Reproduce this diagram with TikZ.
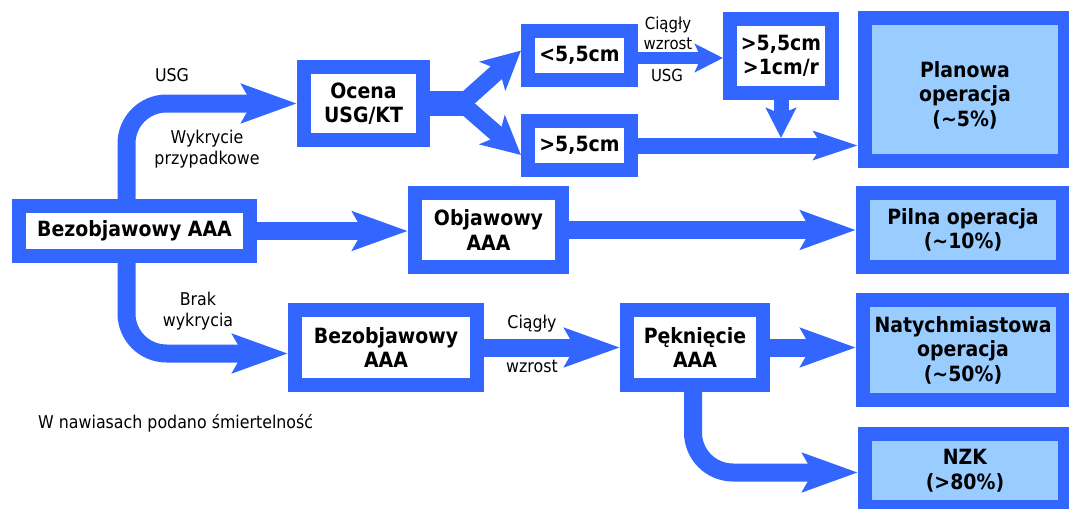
\documentclass[tikz,border=0pt]{standalone}
\usepackage{fontspec}
\setmainfont{DejaVu Sans}[FakeStretch=0.9]
\usetikzlibrary{arrows.meta,calc}
\definecolor{boxblue}{RGB}{51,102,255}
\definecolor{fillblue}{RGB}{153,204,255}
\begin{document}
\begin{tikzpicture}[x=1pt,y=-1pt,
  box/.style={draw=boxblue, line width=14pt, fill=white, inner sep=0pt, outer sep=7pt, align=center, font=\bfseries\fontsize{21}{24.5}\selectfont},
  endbox/.style={box, fill=fillblue},
  boxtext/.style={inner sep=0pt, align=center, font=\bfseries\fontsize{21}{24.5}\selectfont},
  lbl/.style={inner sep=0pt, align=center, font=\fontsize{17.6}{21.5}\selectfont},
  slbl/.style={inner sep=0pt, align=center, font=\fontsize{16.6}{20}\selectfont},
  fat/.style={draw=boxblue, line width=18pt, -{Stealth[length=55pt,width=38pt,inset=10pt]}},
]
\clip (0,0) rectangle (1069,509);
% boxes
\node[box, minimum width=231pt, minimum height=50pt] (bez1) at (134.5,231) {Bezobjawowy AAA};
\node[box, minimum width=119pt, minimum height=73pt] (ocena) at (363.5,103.5) {Ocena\\USG/KT};
\node[box, minimum width=103pt, minimum height=49pt] (small) at (579.5,55.5) {<5,5cm};
\node[box, minimum width=103pt, minimum height=49pt] (big) at (579.5,145.5) {>5,5cm};
\node[box, minimum width=102pt, minimum height=74pt] (grow) at (781,56) {>5,5cm\\>1cm/r};
\node[endbox, minimum width=200pt, minimum height=143pt] (plan) at (965,89.5) {};
\node[boxtext] (plantext) at (965,95) {Planowa\\operacja\\(\textasciitilde 5\%)};
\node[box, minimum width=147pt, minimum height=74pt] (obj) at (488.5,230) {Objawowy\\AAA};
\node[endbox, minimum width=200pt, minimum height=74pt] (pilna) at (963,230) {Pilna operacja\\(\textasciitilde 10\%)};
\node[box, minimum width=182pt, minimum height=75pt] (bez2) at (386,347.5) {Bezobjawowy\\AAA};
\node[box, minimum width=136pt, minimum height=75pt] (pekn) at (695,347.5) {Pęknięcie\\AAA};
\node[endbox, minimum width=200pt, minimum height=100pt] (naty) at (963,350) {Natychmiastowa\\operacja\\(\textasciitilde 50\%)};
\node[endbox, minimum width=200pt, minimum height=73pt] (nzk) at (965,470.5) {NZK\\(>80\%)};
% labels
\node[lbl] (usg1) at (172,75) {USG};
\node[lbl] (wyk) at (207,149) {Wykrycie\\przypadkowe};
\node[lbl] (brak) at (198,311) {Brak\\wykrycia};
\node[slbl] (cw1) at (668,33) {Ciągły\\wzrost};
\node[slbl] (usg2) at (667,75) {USG};
\node[lbl] (cg) at (532,324) {Ciągły};
\node[lbl] (wz) at (532,366) {wzrost};
\node[lbl, anchor=west] (note) at (38,423) {W nawiasach podano śmiertelność};
% connectors
\coordinate (s1) at ($(bez1.north)+(-8,0)$);
\coordinate (s2) at ($(bez1.south)+(-8,0)$);
\draw[fat, rounded corners=40pt] (s1) |- (ocena.west);
\draw[fat, rounded corners=40pt] (s2) |- ($(bez2.west)+(0,6)$);
\draw[fat] (bez1.east) -- (bez1.east -| obj.west);
\draw[fat] (obj.east) -- (pilna.west);
\draw[fat] (bez2.east) -- (pekn.west);
\draw[fat] (pekn.east) -- (pekn.east -| naty.west);
\draw[fat, rounded corners=40pt] ($(pekn.south)+(-2,0)$) |- ($(nzk.west)+(0,2)$);
% fork
\coordinate (fork) at (462,103.5);
\draw[boxblue, line width=25pt] (ocena.east) -- (468,103.5);
\draw[boxblue, line width=17pt, line cap=round, -{Stealth[length=38pt,width=38pt,inset=9pt]}] (fork) -- ($(small.west)+(0,-5)$);
\draw[boxblue, line width=17pt, line cap=round, -{Stealth[length=38pt,width=38pt,inset=9pt]}] (fork) -- ($(big.west)+(0,9.5)$);
% small arrows
\draw[boxblue, line width=12pt, -{Stealth[length=28pt,width=28pt,inset=6pt]}] ($(small.east)+(0,2.5)$) -- ($(small.east -| grow.west)+(0,2.5)$);
\coordinate (merge) at (781,138);
\draw[boxblue, line width=16pt, -{Stealth[length=44pt,width=28pt,inset=8pt]}] (big.east) -- (big.east -| plan.west);
\draw[boxblue, line width=15pt, -{Stealth[length=30pt,width=30pt,inset=6pt]}] (grow.south) -- (merge);
\end{tikzpicture}
\end{document}
